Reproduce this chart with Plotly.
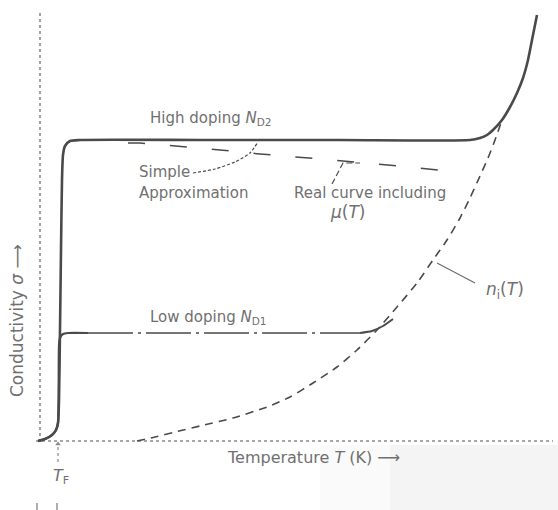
import plotly.graph_objects as go

# Temperature in arbitrary K-like units, conductivity in arbitrary units
# High doping N_D2: freeze-out rise, saturation plateau, intrinsic rise
high_T = [-4, 10, 24, 32, 36, 38, 40, 42, 44, 46, 50, 60, 80, 320, 600, 860,
          880, 894, 906, 924, 940, 954, 966, 976, 984, 994]
high_s = [0.0, 0.2, 0.6, 1.1, 1.8, 4.1, 11.1, 19.1, 26.1, 28.6, 29.5, 30.0, 30.1,
          30.1, 30.1, 30.1, 30.3, 30.6, 31.1, 32.1, 33.4, 34.8, 36.3, 38.1, 40.1, 42.6]

# Low doping N_D1: rise and knee, flat plateau, bend onto intrinsic curve
low_rise_T = [-4, 10, 24, 32, 36, 38, 40, 46, 56, 96]
low_rise_s = [0.0, 0.2, 0.6, 1.1, 1.8, 9.6, 10.3, 10.7, 10.8, 10.8]
low_flat_T = [96, 640]
low_flat_s = [10.8, 10.8]
low_bend_T = [640, 664, 686, 706]
low_bend_s = [10.8, 11.0, 11.5, 12.2]

# Intrinsic carrier curve n_i(T)
ni_T = [194, 230, 270, 320, 386, 454, 500, 546, 594, 634, 674, 714, 754, 786,
        814, 840, 860, 880, 896, 910, 924]
ni_s = [0.0, 0.4, 0.9, 1.5, 2.3, 3.4, 4.4, 5.8, 7.4, 9.1, 11.1, 13.4, 15.8,
        18.1, 20.1, 22.3, 24.3, 26.5, 28.3, 30.1, 32.1]

# Real curve including mobility mu(T)
real_T = [176, 200, 320, 440, 560, 720, 830]
real_s = [29.8, 29.8, 29.3, 28.7, 28.2, 27.5, 26.9]

# Leader lines for the labels
simple_lead_T = [306, 350, 390, 420, 436]
simple_lead_s = [26.8, 27.2, 27.9, 28.8, 29.9]
real_lead_T = [584, 606, 640]
real_lead_s = [25.7, 27.8, 27.8]
ni_lead_T = [794, 870]
ni_lead_s = [17.8, 15.8]

# T_F marker below the axis
tf_T = [36, 36]
tf_s = [-2.1, -0.3]

T_MIN, T_MAX = -80, 1036
S_MIN, S_MAX = -6.9, 44.1
T_AXIS_END = 1026
S_AXIS_END = 43.1

LINE = "#4a4a4a"
TEXT = "#707070"
AXIS = "#8a8a8a"
FONT = "DejaVu Sans"

fig = go.Figure()


def curve(x, y, width, dash="solid", color=LINE, shape="spline"):
    fig.add_trace(go.Scatter(
        x=x, y=y, mode="lines", hoverinfo="skip",
        line=dict(color=color, width=width, dash=dash, shape=shape, smoothing=0.6),
    ))


# Faint halftone of the printed page, lower right
fig.add_shape(type="rect", x0=700, x1=T_MAX, y0=-0.4, y1=S_MIN,
              fillcolor="rgba(0,0,0,0.045)", line=dict(width=0), layer="below")
fig.add_shape(type="rect", x0=560, x1=700, y0=-0.4, y1=S_MIN,
              fillcolor="rgba(0,0,0,0.02)", line=dict(width=0), layer="below")

# Dotted axes
fig.add_shape(type="line", x0=-8, x1=T_AXIS_END, y0=0, y1=0,
              line=dict(color=AXIS, width=1.6, dash="dot"), layer="below")
fig.add_shape(type="line", x0=0, x1=0, y0=-0.1, y1=S_AXIS_END,
              line=dict(color=AXIS, width=1.6, dash="dot"), layer="below")

curve(ni_T, ni_s, 1.6, dash="8px,6px")
curve(real_T, real_s, 1.5, dash="17px,25px", shape="linear")
curve(low_rise_T, low_rise_s, 2.2)
curve(low_flat_T, low_flat_s, 1.6, dash="45px,5px,3px,5px", shape="linear")
curve(low_bend_T, low_bend_s, 2.0)
curve(high_T, high_s, 2.6)
curve(simple_lead_T, simple_lead_s, 1.2, dash="3px,2px")
curve(real_lead_T, real_lead_s, 1.2, dash="6px,3px", shape="linear")
curve(ni_lead_T, ni_lead_s, 1.1, color="#6a6a6a", shape="linear")
curve(tf_T, tf_s, 1.2, dash="dot", color=AXIS, shape="linear")
fig.add_trace(go.Scatter(
    x=[tf_T[1]], y=[tf_s[1]], mode="markers", hoverinfo="skip",
    marker=dict(symbol="triangle-up", size=5, color=AXIS),
))

# Small print marks at the foot of the page
for tx in (-6, 34):
    fig.add_shape(type="line", x0=tx, x1=tx, y0=-6.2, y1=S_MIN,
                  line=dict(color="#777", width=1.2))


def label(x, y, text, anchor="center", size=15, angle=0):
    fig.add_annotation(x=x, y=y, text=text, showarrow=False, xanchor=anchor,
                       yanchor="middle", textangle=angle,
                       font=dict(family=FONT, size=size, color=TEXT))


label(340, 32.3, "High doping <i>N</i><sub>D2</sub>")
label(194, 26.9, "Simple", anchor="left")
label(194, 24.8, "Approximation", anchor="left")
label(660, 24.8, "Real curve including")
label(616, 22.9, "<i>μ</i>(<i>T</i>)", size=17)
label(336, 12.4, "Low doping <i>N</i><sub>D1</sub>")
label(930, 15.1, "<i>n</i><sub>i</sub>(<i>T</i>)", size=17)
label(546, -1.6, "Temperature <i>T</i> (K) ⟶", size=16)
label(42, -3.5, "<i>T</i><sub>F</sub>", size=16)
label(-46, 12.0, "Conductivity <i>σ</i> ⟶", size=17, angle=-90)

fig.update_layout(
    width=558, height=510,
    margin=dict(l=0, r=0, t=0, b=0),
    paper_bgcolor="white", plot_bgcolor="white",
    showlegend=False,
    xaxis=dict(range=[T_MIN, T_MAX], visible=False, fixedrange=True),
    yaxis=dict(range=[S_MIN, S_MAX], visible=False, fixedrange=True),
)

fig.write_html("out.html")
